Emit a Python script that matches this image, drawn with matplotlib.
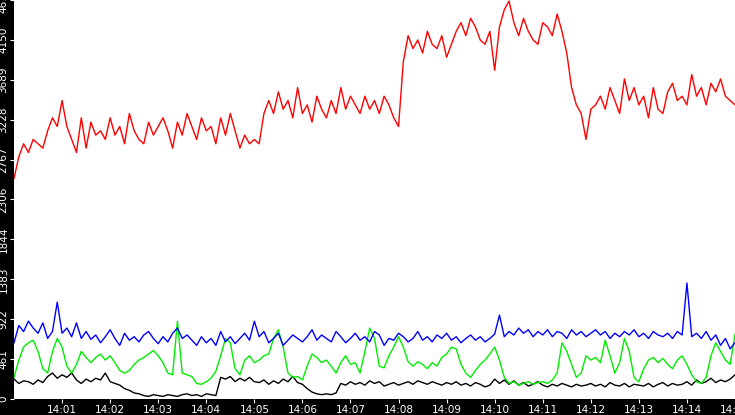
import matplotlib
matplotlib.use("Agg")
import matplotlib.pyplot as plt

# seconds after 14:00, one sample every 6 s
step = 6
red = [2550, 2800, 2950, 2850, 3000, 2950, 2900, 3100, 3250, 3150, 3450,
       3150, 3000, 2850, 3250, 2900, 3200, 3050, 3100, 3000, 3250,
       3050, 3150, 2950, 3300, 3100, 3000, 2950, 3200, 3050, 3150,
       3250, 3100, 2900, 3200, 3050, 3300, 3150, 3000, 3250, 3100,
       3150, 2950, 3250, 3050, 3300, 3100, 2900, 3050, 2950, 3000,
       2950, 3300, 3450, 3300, 3550, 3350, 3450, 3250, 3600, 3300,
       3400, 3200, 3500, 3350, 3250, 3450, 3300, 3600, 3350, 3500,
       3400, 3300, 3500, 3350, 3450, 3300, 3500, 3400, 3250, 3150,
       3900, 4200, 4050, 4150, 4000, 4250, 4100, 4050, 4200, 3950,
       4100, 4250, 4350, 4200, 4400, 4300, 4150, 4100, 4250, 3800,
       4300, 4500, 4600, 4350, 4200, 4400, 4250, 4150, 4100, 4350,
       4300, 4200, 4450, 4250, 4000, 3600, 3400, 3300, 3000, 3350,
       3400, 3500, 3350, 3600, 3450, 3300, 3700, 3450, 3600, 3400,
       3500, 3250, 3600, 3350, 3300, 3550, 3650, 3450, 3500, 3400,
       3750, 3500, 3600, 3400, 3650, 3550, 3700, 3500, 3450, 3400]
blue = [650, 850, 780, 900, 820, 760, 880, 700, 780, 1120,
        760, 820, 720, 880, 700, 780, 690, 740, 650, 720,
        800, 700, 620, 760, 680, 720, 660, 740, 780, 700,
        640, 720, 660, 760, 820, 700, 740, 680, 620, 720,
        650, 700, 620, 780, 660, 720, 640, 700, 760, 680,
        900, 720, 780, 650, 700, 760, 620, 680, 740, 700,
        660, 720, 800, 680, 740, 700, 660, 780, 720, 650,
        700, 760, 680, 720, 660, 780, 740, 620, 700, 680,
        760, 720, 660, 700, 780, 680, 720, 660, 740, 700,
        760, 680, 720, 650, 700, 740, 680, 720, 660, 700,
        750, 970, 720, 780, 740, 820, 760, 800, 720, 780,
        740, 800, 720, 780, 760, 700, 800, 740, 780, 720,
        760, 800, 740, 780, 700, 760, 720, 780, 740, 800,
        720, 760, 700, 780, 740, 720, 760, 700, 780, 740,
        1340, 720, 760, 700, 780, 680, 740, 620, 700, 580, 650]
green = [250, 450, 600, 650, 680, 550, 350, 300, 550, 700,
         600, 380, 300, 400, 550, 480, 420, 480, 520, 450,
         500, 420, 330, 300, 330, 400, 450, 480, 520, 560,
         500, 420, 300, 280, 900, 300, 280, 260, 180, 170,
         200, 240, 320, 500, 700, 650, 350, 280, 450, 500,
         420, 450, 500, 520, 700, 800, 600, 300, 250, 260,
         220, 380, 520, 480, 420, 450, 380, 300, 420, 500,
         400, 420, 300, 550, 820, 700, 380, 360, 500, 600,
         720, 600, 430, 380, 430, 400, 350, 420, 380, 480,
         520, 600, 580, 400, 300, 250, 330, 400, 450, 520,
         600, 450, 250, 180, 200, 160, 180, 200, 170, 190,
         200, 180, 220, 300, 650, 550, 400, 250, 300, 500,
         450, 480, 420, 680, 500, 300, 420, 700, 550, 250,
         200, 350, 450, 480, 420, 470, 400, 350, 450, 500,
         400, 280, 200, 180, 250, 500, 650, 550, 450, 400, 750]
black = [230, 180, 210, 200, 170, 220, 190, 260, 300, 240,
         280, 250, 300, 220, 180, 230, 200, 240, 220, 300,
         200, 180, 160, 120, 100, 70, 60, 40, 30, 50,
         40, 30, 50, 40, 30, 50, 60, 40, 50, 30,
         60, 50, 40, 250, 230, 260, 200, 240, 210, 250,
         200, 190, 220, 170, 210, 180, 230, 200, 260, 190,
         170, 120, 80, 60, 50, 60, 50, 70, 180, 160,
         200, 170, 190, 160, 210, 180, 200, 150, 170, 190,
         160, 180, 200, 170, 210, 190, 170, 200, 180, 160,
         190, 170, 200, 160, 180, 150, 190, 170, 140, 160,
         230, 180, 220, 170, 210, 160, 190, 150, 170, 200,
         160, 140, 170, 150, 180, 160, 140, 170, 150, 160,
         180, 150, 170, 140, 190, 160, 150, 180, 140, 170,
         160, 150, 180, 140, 170, 190, 150, 180, 160, 170,
         200, 160, 220, 180, 200, 240, 190, 220, 200, 230, 280]

yticks = [0, 461, 922, 1383, 1844, 2306, 2767, 3228, 3689, 4150, 4612]
xtick_labels = ["14:%02d" % m for m in range(1, 16)]

fig = plt.figure(figsize=(7.35, 4.15), dpi=100, facecolor="black")
ax = fig.add_axes([14 / 735, 16 / 415, 721 / 735, 399 / 415])
ax.set_facecolor("white")

for ys, col in [(black, "black"), (green, "#00ee00"), (blue, "#0000ff"), (red, "#ff0000")]:
    xs = [i * step for i in range(len(ys))]
    ax.plot(xs, ys, color=col, lw=1)

ax.set_xlim(0, 900)
ax.set_ylim(0, 4612)
ax.set_yticks(yticks)
ax.set_yticklabels([str(v) for v in yticks], rotation=90, va="center",
                   color="white", fontsize=7.5)
ax.set_xticks([60 * m for m in range(1, 16)])
ax.set_xticklabels(xtick_labels, color="white", fontsize=7.5)
ax.tick_params(axis="y", colors="white", length=3, pad=1, direction="out")
ax.tick_params(axis="x", colors="white", length=3, pad=1, direction="out")
for s in ax.spines.values():
    s.set_visible(False)

fig.savefig("out.png", dpi=100, facecolor="black")
